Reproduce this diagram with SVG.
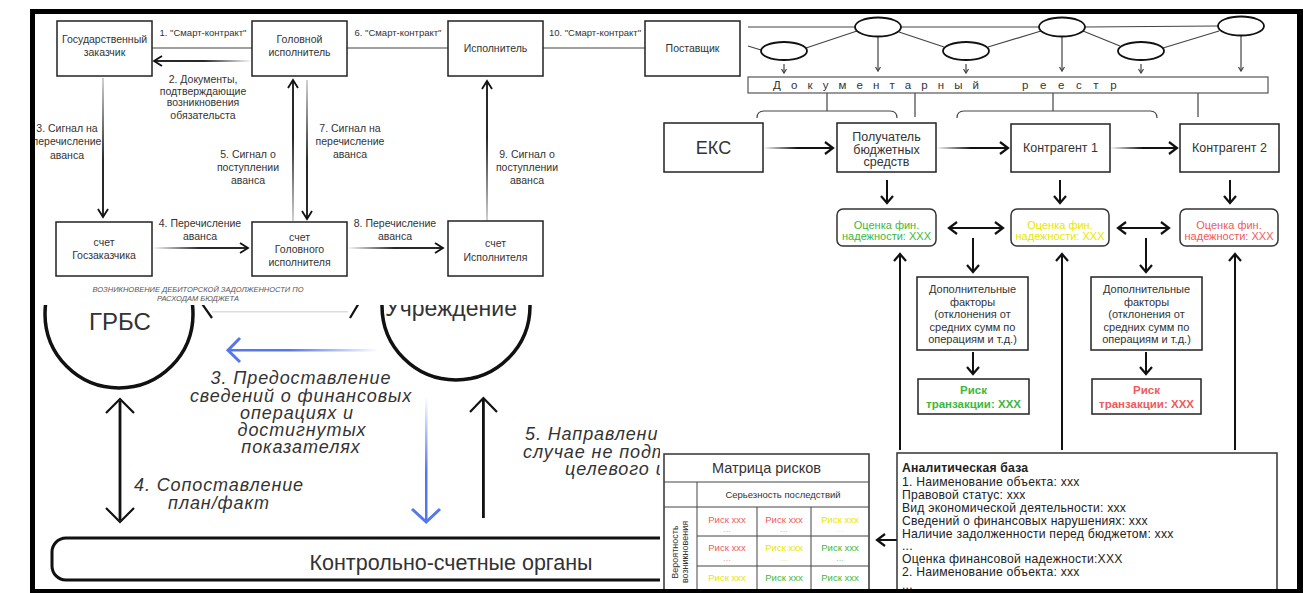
<svg xmlns="http://www.w3.org/2000/svg" width="1315" height="593" viewBox="0 0 1315 593">
<style>
.bx{fill:#fff;stroke:#222;stroke-width:1.5}
.t{font-family:"Liberation Sans",Arial,sans-serif;fill:#333;text-anchor:middle}
.s10{font-size:10.5px}
.s9{font-size:9.5px}
.ln{stroke:#444;stroke-width:1.2;fill:none}
.hd{fill:none;stroke:#111;stroke-width:1.8;stroke-linejoin:miter}
.hd2{fill:none;stroke:#111;stroke-width:2.2}
.sl{stroke:#111;stroke-width:2;fill:none}
.it{font-family:"Liberation Sans",Arial,sans-serif;font-style:italic;fill:#333;font-size:18px;letter-spacing:0.9px}
.el{fill:#fff;stroke:#111;stroke-width:1.8}
.ob{fill:#fff;stroke:#333;stroke-width:1.5}
.g{fill:#3cb83c}.y{fill:#e6e600}.r{fill:#f05a5a}
.gl{fill:#8fd88f}.yl{fill:#eeee88}.rl{fill:#f5a0a0}
.rk{font-family:"Liberation Sans",Arial,sans-serif;font-size:9.5px;text-anchor:middle}
.ab{font-family:"Liberation Sans",Arial,sans-serif;font-size:12.2px;letter-spacing:0.2px;fill:#222}
</style>
<defs>
<linearGradient id="gR" x1="0" y1="0" x2="1" y2="0"><stop offset="0" stop-color="#fff"/><stop offset="0.5" stop-color="#111"/></linearGradient>
<linearGradient id="gL" x1="1" y1="0" x2="0" y2="0"><stop offset="0" stop-color="#fff"/><stop offset="0.5" stop-color="#111"/></linearGradient>
<linearGradient id="gD" x1="0" y1="0" x2="0" y2="1"><stop offset="0" stop-color="#ccc"/><stop offset="0.6" stop-color="#111"/></linearGradient>
<linearGradient id="gU" x1="0" y1="1" x2="0" y2="0"><stop offset="0" stop-color="#ccc"/><stop offset="0.6" stop-color="#111"/></linearGradient>
<linearGradient id="gLb" x1="1" y1="0" x2="0" y2="0"><stop offset="0" stop-color="#fff"/><stop offset="0.6" stop-color="#5577ee"/></linearGradient>
<linearGradient id="gDb" x1="0" y1="0" x2="0" y2="1"><stop offset="0" stop-color="#fff"/><stop offset="0.6" stop-color="#5577ee"/></linearGradient>
<clipPath id="cBL"><rect x="35" y="305" width="625" height="288"/></clipPath>
</defs>
<rect width="1315" height="593" fill="#fff"/>

<!-- ===== Bottom-left scene ===== -->
<g clip-path="url(#cBL)">
<g id="grbs"><circle cx="119" cy="314" r="74" fill="#fff" stroke="#111" stroke-width="3.5"/>
<text class="t" x="120" y="330" font-size="24" fill="#222">ГРБС</text></g>
<g id="uchr"><circle cx="456" cy="306" r="74" fill="#fff" stroke="#111" stroke-width="3.5"/>
<text class="t" x="451" y="316" font-size="23" fill="#222">Учреждение</text></g>
<g id="kso"><rect x="52" y="538" width="700" height="42" rx="14" fill="#fff" stroke="#111" stroke-width="3"/>
<text class="t" x="451" y="570" font-size="21.5" fill="#222">Контрольно-счетные органы</text></g>
<g id="bl-conn">
<path class="hd2" d="M198,298 L212,318 M362,298 L350,318" stroke-width="3"/>
<rect x="212" y="311" width="136" height="1.5" fill="#ddd"/>
<rect x="229" y="349" width="150" height="2.5" fill="url(#gLb)"/>
<path d="M240,338 L228,350.3 L240,362" fill="none" stroke="#5577ee" stroke-width="3"/>
<rect x="425" y="397" width="2.5" height="124" fill="url(#gDb)"/>
<path d="M412,509 L426.2,522 L440,509" fill="none" stroke="#5577ee" stroke-width="3"/>
<rect x="482" y="399" width="2.8" height="119" fill="#111"/>
<path class="hd2" d="M470,412 L483.4,398 L497,412" stroke-width="3"/>
<line x1="120" y1="401" x2="120" y2="520" stroke="#111" stroke-width="2.8"/>
<path class="hd2" d="M106,413 L120,399 L134,413 M106,508 L120,522 L134,508" stroke-width="3"/>
</g>
<g id="bl-labels">
<text class="it" x="301" y="384" text-anchor="middle">3. Предоставление</text>
<text class="it" x="301" y="401.5" text-anchor="middle">сведений о финансовых</text>
<text class="it" x="297" y="419" text-anchor="middle">операциях и</text>
<text class="it" x="302" y="436" text-anchor="middle">достигнутых</text>
<text class="it" x="301" y="453" text-anchor="middle">показателях</text>
<text class="it" x="219" y="491" text-anchor="middle">4. Сопоставление</text>
<text class="it" x="219" y="509" text-anchor="middle">план/факт</text>
<text class="it" x="525" y="440">5. Направлени</text>
<text class="it" x="523" y="457.5">случае не подт</text>
<text class="it" x="565" y="475">целевого и</text>
</g>
</g>

<!-- ===== Top-left diagram ===== -->
<g id="tl-conn">
<line class="ln" x1="152" y1="48" x2="252" y2="48"/>
<line class="ln" x1="347" y1="48" x2="448" y2="48"/>
<line class="ln" x1="543" y1="48" x2="645" y2="48"/>
<rect x="155" y="60.1" width="97" height="1.8" fill="url(#gL)"/><path class="hd" d="M162,56 L154,61 L162,66"/>
<rect x="102.1" y="78" width="1.8" height="138" fill="url(#gD)"/><path class="hd" d="M98,209 L103,217 L108,209"/>
<rect x="152" y="247.1" width="95" height="1.8" fill="url(#gR)"/><path class="hd" d="M240,243 L248,248 L240,253"/>
<rect x="292.1" y="81" width="1.8" height="140" fill="url(#gU)"/><path class="hd" d="M288,88 L293,80 L298,88"/>
<rect x="306.1" y="80" width="1.8" height="138" fill="url(#gD)"/><path class="hd" d="M302,211 L307,219 L312,211"/>
<rect x="347" y="247.1" width="95" height="1.8" fill="url(#gR)"/><path class="hd" d="M435,243 L443,248 L435,253"/>
<rect x="486.1" y="82" width="1.8" height="139" fill="url(#gU)"/><path class="hd" d="M482,89 L487,81 L492,89"/>
</g>
<g id="tl-labels" class="t s10">
<text class="s9" x="203" y="36">1. "Смарт-контракт"</text>
<text class="s9" x="398" y="36">6. "Смарт-контракт"</text>
<text class="s9" x="595" y="36">10. "Смарт-контракт"</text>
<text x="203" y="82.5">2. Документы,</text>
<text x="203" y="94.5">подтверждающие</text>
<text x="203" y="106">возникновения</text>
<text x="203" y="118.5">обязательста</text>
<text x="67" y="131.5">3. Сигнал на</text>
<text x="67" y="144.5">перечисление</text>
<text x="67" y="158.5">аванса</text>
<text x="248" y="157.5">5. Сигнал о</text>
<text x="248" y="170.5">поступлении</text>
<text x="248" y="183.5">аванса</text>
<text x="350" y="131.5">7. Сигнал на</text>
<text x="350" y="144.5">перечисление</text>
<text x="350" y="158">аванса</text>
<text x="527" y="157.5">9. Сигнал о</text>
<text x="527" y="170.5">поступлении</text>
<text x="527" y="183.5">аванса</text>
<text x="200" y="226.5">4. Перечисление</text>
<text x="200" y="239.5">аванса</text>
<text x="395" y="226.5">8. Перечисление</text>
<text x="395" y="239.5">аванса</text>
<text x="198" y="292" font-size="7.5" font-style="italic" fill="#555">ВОЗНИКНОВЕНИЕ ДЕБИТОРСКОЙ ЗАДОЛЖЕННОСТИ ПО</text>
<text x="198" y="301" font-size="7.5" font-style="italic" fill="#555">РАСХОДАМ БЮДЖЕТА</text>
</g>
<g id="n-gz"><rect class="bx" x="57" y="21" width="95" height="55"/><text class="t s10" x="104.5" y="42.5">Государственный</text><text class="t s10" x="104.5" y="55.5">заказчик</text></g>
<g id="n-gi"><rect class="bx" x="252" y="21" width="95" height="55"/><text class="t s10" x="299.5" y="42.5">Головной</text><text class="t s10" x="299.5" y="55.5">исполнитель</text></g>
<g id="n-isp"><rect class="bx" x="448" y="21" width="95" height="55"/><text class="t s10" x="495.5" y="51.5">Исполнитель</text></g>
<g id="n-post"><rect class="bx" x="645" y="21" width="95" height="55"/><text class="t s10" x="692.5" y="51.5">Поставщик</text></g>
<g id="n-sgz"><rect class="bx" x="56" y="222" width="96" height="54"/><text class="t s10" x="104" y="245.5">счет</text><text class="t s10" x="104" y="258.5">Госзаказчика</text></g>
<g id="n-sgi"><rect class="bx" x="252" y="222" width="95" height="54"/><text class="t s10" x="299.5" y="240.5">счет</text><text class="t s10" x="299.5" y="252.5">Головного</text><text class="t s10" x="299.5" y="265.5">исполнителя</text></g>
<g id="n-si"><rect class="bx" x="448" y="221" width="95" height="55"/><text class="t s10" x="495.5" y="246.5">счет</text><text class="t s10" x="495.5" y="260.5">Исполнителя</text></g>

<!-- ===== Right panel ===== -->
<g id="r-net">
<path class="ln" d="M748,27 H855 M901,27 H1039 M1085,27 L1218,26 M748,46 L761,50 M806,48 L857,31 M899,32 L944,47 M988,47 L1041,31 M1083,31 L1120,46 M1163,48 L1219,31"/>
<path class="ln" d="M784,64 V73 M966,64 V73 M1141,64 V73 M878,37 V71 M1062,37 V71 M1241,36 V71"/>
<path class="ln" d="M781.5,69 L784,73 L786.5,69 M963.5,69 L966,73 L968.5,69 M1138.5,69 L1141,73 L1143.5,69 M875.5,67 L878,71 L880.5,67 M1059.5,67 L1062,71 L1064.5,67 M1238.5,67 L1241,71 L1243.5,67"/>
<path class="ln" d="M827,93 V111 M1053,93 V111 M915,93 V117 M1198,93 V117 M757,118 Q757,111 764,111 H890 Q897,111 897,118 M957,118 Q957,111 964,111 H1150 Q1157,111 1157,118"/>
</g>
<g id="e1"><ellipse class="el" cx="878" cy="27" rx="23" ry="9.5"/></g>
<g id="e2"><ellipse class="el" cx="1062" cy="27" rx="23" ry="9.5"/></g>
<g id="e3"><ellipse class="el" cx="1241" cy="26" rx="23" ry="9.5"/></g>
<g id="e4"><ellipse class="el" cx="784" cy="51" rx="23" ry="9"/></g>
<g id="e5"><ellipse class="el" cx="966" cy="51" rx="23" ry="9"/></g>
<g id="e6"><ellipse class="el" cx="1141" cy="51" rx="23" ry="9"/></g>
<g id="reg"><rect x="748" y="77" width="520" height="16" fill="#fff" stroke="#555" stroke-width="1.2"/>
<text x="773" y="89" font-family="'Liberation Sans',Arial,sans-serif" font-size="11.5" fill="#333" letter-spacing="10.1">Документарный</text>
<text x="1022" y="89" font-family="'Liberation Sans',Arial,sans-serif" font-size="11.5" fill="#333" letter-spacing="11.6">реестр</text></g>

<g id="r-conn">
<rect x="763" y="147" width="69" height="2" fill="url(#gR)"/><path class="hd2" d="M825,142 L833,148 L825,154"/>
<rect x="936" y="147" width="71" height="2" fill="url(#gR)"/><path class="hd2" d="M1000,142 L1008,148 L1000,154"/>
<rect x="1110" y="147" width="66" height="2" fill="url(#gR)"/><path class="hd2" d="M1169,142 L1177,148 L1169,154"/>
<path class="sl" d="M887,180 V203 M1060,180 V203 M1230,180 V203 M949,228 H1003 M1118,228 H1169 M973,238 V272 M1146,238 V272 M973,352 V374 M1146,352 V374 M900,450 V254 M1062,450 V254 M1235,450 V254 M897,540 H877"/>
<path class="hd2" d="M881,196 L887,203 L893,196 M1054,196 L1060,203 L1066,196 M1224,196 L1230,203 L1236,196 M957,222 L949,228 L957,234 M995,222 L1003,228 L995,234 M1126,222 L1118,228 L1126,234 M1161,222 L1169,228 L1161,234 M967,265 L973,272 L979,265 M1140,265 L1146,272 L1152,265 M967,367 L973,374 L979,367 M1140,367 L1146,374 L1152,367 M894,261 L900,254 L906,261 M1056,261 L1062,254 L1068,261 M1229,261 L1235,254 L1241,261 M885,534 L877,540 L885,546"/>
</g>
<g id="n-eks"><rect class="bx" x="664" y="123" width="99" height="49"/><text class="t" x="713.5" y="153.5" font-size="18">ЕКС</text></g>
<g id="n-pbs"><rect class="bx" x="837" y="123" width="99" height="49"/><text class="t" font-size="12.5" x="886.5" y="141">Получатель</text><text class="t" font-size="12.5" x="886.5" y="153.5">бюджетных</text><text class="t" font-size="12.5" x="886.5" y="166">средств</text></g>
<g id="n-k1"><rect class="bx" x="1011" y="124" width="99" height="48"/><text class="t" font-size="12.5" x="1060.5" y="151.5">Контрагент 1</text></g>
<g id="n-k2"><rect class="bx" x="1180" y="124" width="99" height="48"/><text class="t" font-size="12.5" x="1229.5" y="151.5">Контрагент 2</text></g>
<g id="n-o1"><rect class="ob" x="837" y="209" width="99" height="37" rx="6"/><text class="t g" font-size="11" x="886.5" y="228.5">Оценка фин.</text><text class="t g" font-size="11" x="886.5" y="240">надежности: XXX</text></g>
<g id="n-o2"><rect class="ob" x="1011" y="209" width="98" height="37" rx="6"/><text class="t y" font-size="11" x="1060" y="228.5">Оценка фин.</text><text class="t y" font-size="11" x="1060" y="240">надежности: XXX</text></g>
<g id="n-o3"><rect class="ob" x="1180" y="209" width="98" height="37" rx="6"/><text class="t r" font-size="11" x="1229" y="228.5">Оценка фин.</text><text class="t r" font-size="11" x="1229" y="240">надежности: XXX</text></g>
<g id="n-d1"><rect class="bx" x="917" y="277" width="111" height="73"/>
<text class="t" font-size="11" x="972.5" y="293">Дополнительные</text><text class="t" font-size="11" x="972.5" y="305.5">факторы</text><text class="t" font-size="11" x="972.5" y="318">(отклонения от</text><text class="t" font-size="11" x="972.5" y="330.5">средних сумм по</text><text class="t" font-size="11" x="972.5" y="343">операциям и т.д.)</text></g>
<g id="n-d2"><rect class="bx" x="1091" y="277" width="111" height="73"/>
<text class="t" font-size="11" x="1146.5" y="293">Дополнительные</text><text class="t" font-size="11" x="1146.5" y="305.5">факторы</text><text class="t" font-size="11" x="1146.5" y="318">(отклонения от</text><text class="t" font-size="11" x="1146.5" y="330.5">средних сумм по</text><text class="t" font-size="11" x="1146.5" y="343">операциям и т.д.)</text></g>
<g id="n-r1"><rect class="bx" x="918" y="379" width="111" height="35"/><text class="t g" font-size="11.5" font-weight="bold" x="973.5" y="394">Риск</text><text class="t g" font-size="11.5" font-weight="bold" x="973.5" y="408">транзакции: XXX</text></g>
<g id="n-r2"><rect class="bx" x="1092" y="379" width="109" height="35"/><text class="t r" font-size="11.5" font-weight="bold" x="1146.5" y="394">Риск</text><text class="t r" font-size="11.5" font-weight="bold" x="1146.5" y="408">транзакции: XXX</text></g>

<g id="n-matrix">
<rect x="664" y="454" width="205" height="150" fill="#fff" stroke="#333" stroke-width="1.5"/>
<path d="M664,482 H869 M664,507 H869 M697,536 H869 M697,566 H869 M697,482 V593 M757,507 V593 M811,507 V593" stroke="#444" stroke-width="1" fill="none"/>
<text class="t" font-size="14.5" x="766.5" y="473">Матрица рисков</text>
<text class="t" font-size="9.5" x="783" y="498">Серьезность последствий</text>
<text class="t" font-size="9" transform="translate(678,552) rotate(-90)">Вероятность</text>
<text class="t" font-size="9" transform="translate(688,552) rotate(-90)">возникновения</text>
<text class="rk r" x="727" y="523">Риск xxx</text><text class="rk rl" x="727" y="532">...</text>
<text class="rk r" x="784" y="523">Риск xxx</text><text class="rk rl" x="784" y="532">...</text>
<text class="rk y" x="840" y="523">Риск xxx</text><text class="rk yl" x="840" y="532">...</text>
<text class="rk r" x="727" y="551">Риск xxx</text><text class="rk rl" x="727" y="561">...</text>
<text class="rk y" x="784" y="551">Риск xxx</text><text class="rk yl" x="784" y="561">...</text>
<text class="rk g" x="840" y="551">Риск xxx</text><text class="rk gl" x="840" y="561">...</text>
<text class="rk y" x="727" y="581">Риск xxx</text><text class="rk yl" x="727" y="591">...</text>
<text class="rk g" x="784" y="581">Риск xxx</text><text class="rk gl" x="784" y="591">...</text>
<text class="rk g" x="840" y="581">Риск xxx</text><text class="rk gl" x="840" y="591">...</text>
</g>
<g id="n-base">
<rect x="897" y="453" width="380" height="150" fill="#fff" stroke="#333" stroke-width="1.5"/>
<text class="ab" x="902" y="472" font-weight="bold">Аналитическая база</text>
<text class="ab" x="902" y="485.5">1. Наименование объекта: xxx</text>
<text class="ab" x="902" y="498.5">Правовой статус: xxx</text>
<text class="ab" x="902" y="511.5">Вид экономической деятельности: xxx</text>
<text class="ab" x="902" y="524.5">Сведений о финансовых нарушениях: xxx</text>
<text class="ab" x="902" y="537.5">Наличие задолженности перед бюджетом: xxx</text>
<text class="ab" x="902" y="549.5">...</text>
<text class="ab" x="902" y="562.5">Оценка финансовой надежности:XXX</text>
<text class="ab" x="902" y="576">2. Наименование объекта: xxx</text>
<text class="ab" x="902" y="589">...</text>
</g>

<!-- frame -->
<g id="frame" fill="#000">
<rect x="30" y="9" width="1273" height="5"/>
<rect x="30" y="9" width="5" height="584"/>
<rect x="1297" y="9" width="6" height="584"/>
<rect x="30" y="589" width="1273" height="4"/>
</g>
</svg>
